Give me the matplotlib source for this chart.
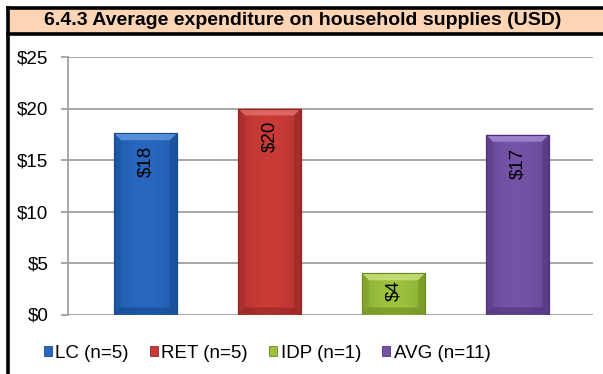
import matplotlib
matplotlib.use("Agg")
import matplotlib.pyplot as plt
import numpy as np
from matplotlib.patches import Rectangle, Polygon
from matplotlib.lines import Line2D

plt.rcParams['font.family'] = ['Liberation Sans', 'DejaVu Sans']

# Data
groups = ["LC (n=5)", "RET (n=5)", "IDP (n=1)", "AVG (n=11)"]
expenditure = [17.6, 20.0, 4.0, 17.45]
tick_values = [0, 5, 10, 15, 20, 25]
title = "6.4.3 Average expenditure on household supplies (USD)"

base_colors = ["#2767BF", "#C93B37", "#9DC23E", "#7453A6"]
light_colors = ["#5F97DD", "#E26D69", "#C6E07C", "#A488D0"]
dark_colors = ["#17498F", "#8F2522", "#6C8A22", "#4D3377"]

FS = 13.5
W, H = 603, 374
fig = plt.figure(figsize=(W / 100, H / 100), dpi=100)

# Outer frame and title band
fig.patches.append(Rectangle((7.5 / W, 1 - 33.5 / H), 1 - 7.5 / W, 26 / H,
                             transform=fig.transFigure, facecolor="#FDD5B5",
                             edgecolor="none", zorder=0))
for (x0, y0, x1, y1) in [(7.5, 7.5, W, 7.5), (7.5, 33.5, W, 33.5), (7.5, 7.5, 7.5, H)]:
    fig.lines.append(Line2D([x0 / W, x1 / W], [1 - y0 / H, 1 - y1 / H],
                            transform=fig.transFigure, color="black", lw=2.6,
                            solid_capstyle="projecting"))
fig.text(303 / W, 1 - 20.5 / H, title, ha="center", va="center",
         fontsize=14, fontweight="bold")

ax = fig.add_axes([68 / W, 1 - 314.5 / H, (593 - 68) / W, (314.5 - 57) / H])
x = np.arange(len(groups))
ax.set_xlim(-0.625, 3.609)
ax.set_ylim(0, 25)
ax.set_yticks(tick_values)
ax.set_yticklabels([f"${v}" for v in tick_values], fontsize=FS)
ax.set_xticks([])
for s in ["top", "right", "bottom"]:
    ax.spines[s].set_visible(False)
ax.spines["left"].set_color("#A0A0A0")
ax.spines["left"].set_linewidth(1.3)
ax.tick_params(axis="y", length=5, width=1.3, color="#A0A0A0", pad=9)
ax.grid(axis="y", color="#A0A0A0", lw=1.3)
ax.set_axisbelow(True)

bar_w = 0.508
bars = ax.bar(x, expenditure, width=bar_w, color=base_colors, zorder=2,
              edgecolor=dark_colors, linewidth=0.8)

fig.canvas.draw()
# bevel size converted from pixels to data units
px_x = 1.0 / (ax.transData.transform((1, 0))[0] - ax.transData.transform((0, 0))[0])
px_y = 1.0 / (ax.transData.transform((0, 1))[1] - ax.transData.transform((0, 0))[1])
bx, by = 7 * px_x, 7 * px_y

for b, base, lt, dk in zip(bars, base_colors, light_colors, dark_colors):
    x0, w, h = b.get_x(), b.get_width(), b.get_height()
    x1 = x0 + w
    # soft horizontal shading inside the bar
    grad = np.abs(np.linspace(-1, 1, 64))[None, :] ** 2
    cmap = matplotlib.colors.LinearSegmentedColormap.from_list("s", [base, dk])
    im = ax.imshow(grad, extent=(x0, x1, 0, h), aspect="auto", cmap=cmap,
                   vmin=0, vmax=2.4, zorder=2.1, interpolation="bilinear")
    im.set_clip_path(b)
    # bevel faces
    top = Polygon([(x0, h), (x1, h), (x1 - bx, h - by), (x0 + bx, h - by)],
                  closed=True, facecolor=lt, alpha=0.85, edgecolor="none", zorder=2.2)
    left = Polygon([(x0, 0), (x0, h), (x0 + bx, h - by), (x0 + bx, by)],
                   closed=True, facecolor=dk, alpha=0.25, edgecolor="none", zorder=2.2)
    right = Polygon([(x1, 0), (x1, h), (x1 - bx, h - by), (x1 - bx, by)],
                    closed=True, facecolor=dk, alpha=0.45, edgecolor="none", zorder=2.2)
    bottom = Polygon([(x0, 0), (x1, 0), (x1 - bx, by), (x0 + bx, by)],
                     closed=True, facecolor=dk, alpha=0.6, edgecolor="none", zorder=2.2)
    for p in (top, left, right, bottom):
        ax.add_patch(p)
    ax.add_patch(Rectangle((x0, 0), w, h, facecolor="none", edgecolor=dk,
                           lw=0.8, zorder=2.3))

# value labels: near the top inside each bar, centred in short bars
for xi, v in zip(x, expenditure):
    bar_px = v / px_y
    if bar_px > 80:
        ax.annotate(f"${v:.0f}", xy=(xi, v), xytext=(0, -9), textcoords="offset points",
                    rotation=90, ha="center", va="top", fontsize=FS, zorder=3)
    else:
        ax.annotate(f"${v:.0f}", xy=(xi, v / 2), xytext=(0, 2), textcoords="offset points",
                    rotation=90, ha="center", va="center", fontsize=FS, zorder=3)

handles = [Rectangle((0, 0), 1, 1, facecolor=c, edgecolor=d, lw=0.6)
           for c, d in zip(base_colors, dark_colors)]
fig.legend(handles, groups, loc="center", bbox_to_anchor=(267 / W, 1 - 353 / H),
           ncol=4, frameon=False, fontsize=FS, handlelength=0.42,
           handleheight=0.42, handletextpad=0.2, columnspacing=1.12)

fig.savefig("out.png", dpi=100)
